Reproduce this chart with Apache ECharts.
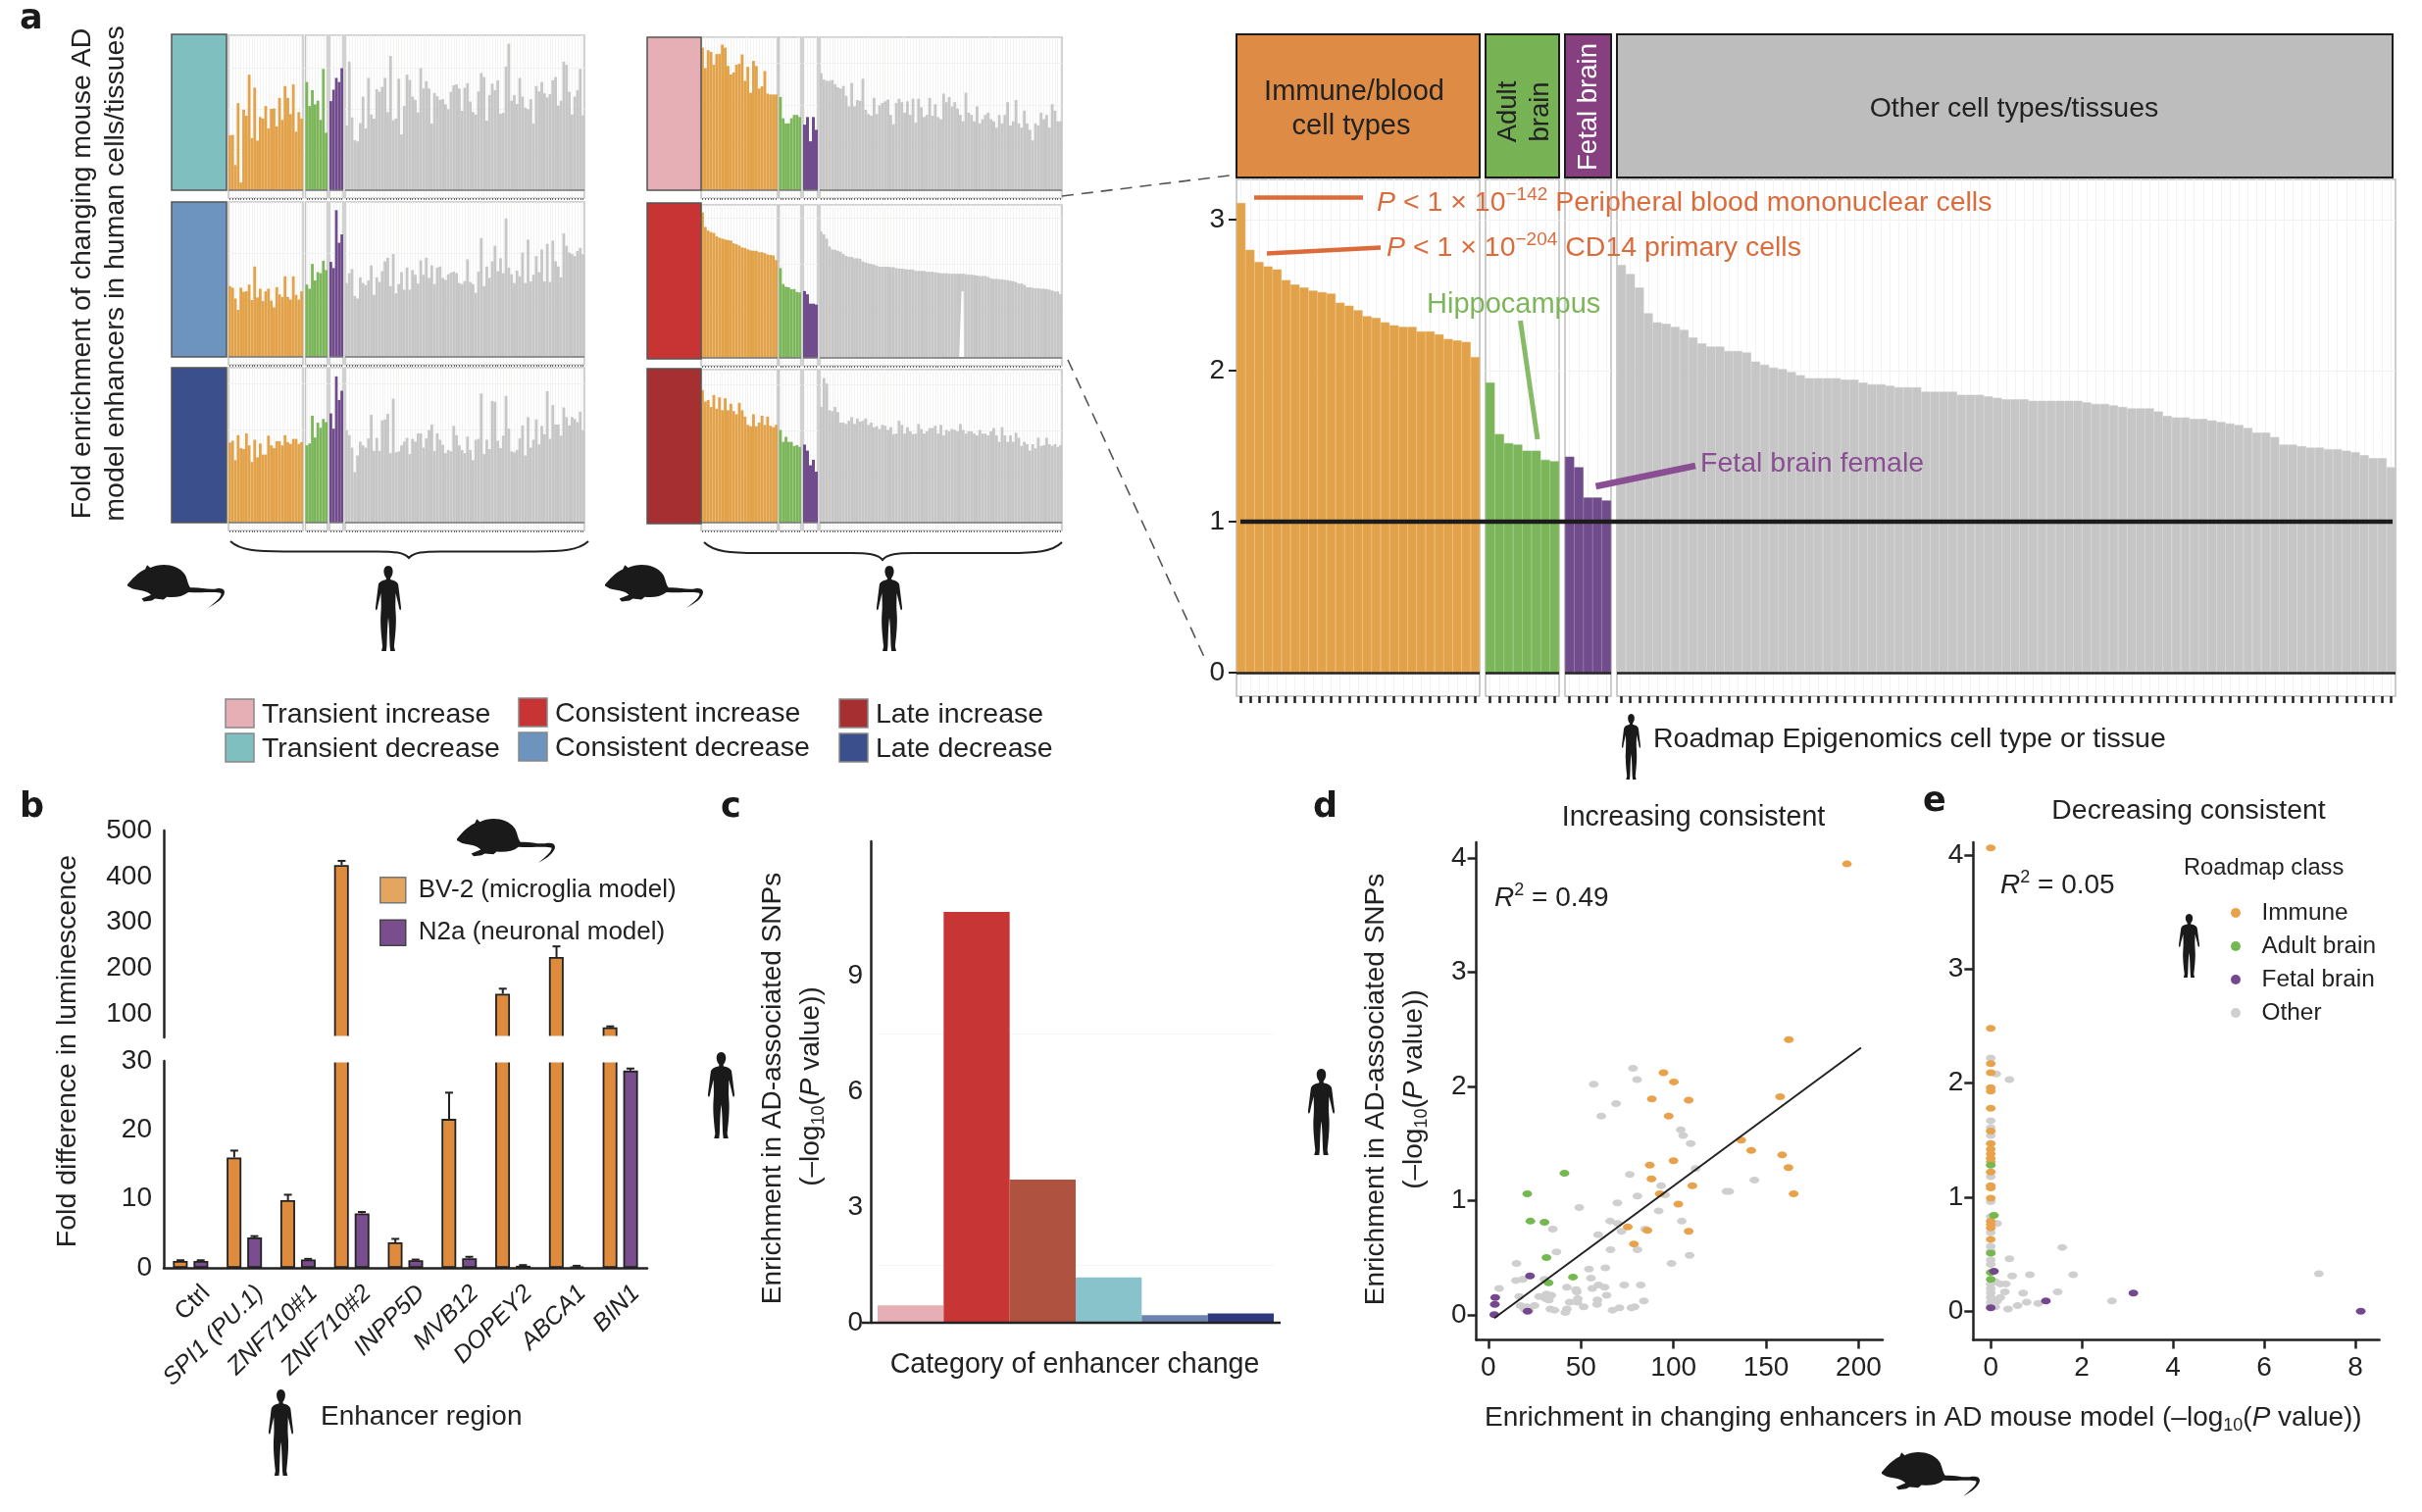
<!DOCTYPE html>
<html><head><meta charset="utf-8">
<style>html,body{margin:0;padding:0;background:#fff}#c{width:2470px;height:1542px}</style>
<script src="https://cdn.jsdelivr.net/npm/echarts@6/dist/echarts.min.js"></script>
</head><body><div id="c"></div>
<script>
// ---------- DATA: panel a, Roadmap classes: Immune(27) Adult(8) Fetal(5) Other(87)
const tdImmune=[1.35,1.36,.62,2.14,.19,1.98,1.83,2.84,1.28,2.52,1.22,1.80,1.76,2.07,1.52,2.0,2.01,1.57,2.27,1.73,2.56,2.27,1.87,2.6,1.44,1.92,1.76];
const tdAdult=[2.66,2.07,2.46,2.11,2.2,1.73,2.98,1.41];
const tdFetal=[2.19,2.47,2.76,2.66,3.0];
const tdOther=[1.59,3.16,1.79,1.23,1.20,1.65,2.30,1.52,2.76,1.86,1.76,2.48,2.42,2.54,2.76,1.92,3.30,1.72,1.76,2.74,1.37,2.07,2.84,2.71,2.30,2.22,1.91,3.00,2.50,2.68,2.50,1.64,2.39,2.31,2.22,2.24,2.11,1.99,2.42,2.58,2.60,2.50,1.95,2.52,2.63,2.18,1.92,1.86,2.43,2.88,2.78,1.71,2.34,2.62,2.46,2.70,1.88,1.90,3.04,3.60,2.20,2.34,2.12,2.76,2.30,2.03,1.99,2.24,1.64,2.56,2.43,2.66,2.38,2.28,2.36,2.70,2.78,2.08,2.20,3.16,3.08,2.42,1.86,2.30,2.46,2.98,1.84];
const cdImmune=[1.37,1.34,1.13,.91,1.34,1.26,1.27,1.40,1.10,1.75,1.15,1.32,1.08,1.27,1.32,1.09,.96,1.35,1.21,1.16,1.56,1.16,1.11,1.56,1.20,1.11,1.27];
const cdAdult=[1.40,1.32,1.80,1.48,1.64,1.62,1.86,1.68];
const cdFetal=[1.84,1.72,2.84,2.21,2.37];
const cdOther=[1.43,1.62,1.70,1.18,1.13,1.54,1.43,1.39,1.48,1.77,1.20,1.54,1.45,1.66,1.85,1.92,1.37,1.99,1.23,1.41,1.64,1.30,1.73,1.30,1.68,1.59,1.42,1.87,1.59,1.92,1.53,1.77,1.41,1.73,1.75,1.53,1.49,1.60,1.63,1.65,1.62,1.43,1.41,1.47,1.89,1.45,1.41,1.24,1.65,2.30,1.37,1.75,1.53,1.85,2.15,1.66,1.91,1.62,2.68,1.73,1.60,1.43,1.67,1.56,2.02,1.43,2.27,1.46,1.59,1.95,1.64,2.08,1.46,2.19,1.45,2.25,1.85,1.75,1.54,2.39,2.15,2.02,1.99,1.95,2.05,2.11,1.99];
const ldImmune=[1.73,1.77,1.35,1.89,1.61,1.59,1.93,1.67,1.31,1.79,1.41,1.71,1.47,1.47,1.88,1.67,1.61,1.76,1.76,1.67,1.89,1.74,1.70,1.81,1.81,1.70,1.74];
const ldAdult=[1.67,1.71,2.31,1.84,2.16,2.05,2.24,2.17];
const ldFetal=[2.36,2.03,3.16,2.65,2.85];
const ldOther=[2.00,1.89,1.62,1.09,1.45,1.75,1.67,1.62,1.82,2.33,1.55,1.83,1.55,2.21,2.23,2.35,1.50,2.68,1.52,1.54,1.67,1.75,1.83,1.48,1.81,1.75,1.93,1.93,1.62,1.82,2.00,2.12,1.55,1.93,1.79,1.68,1.50,1.57,1.54,2.09,1.89,1.67,1.57,1.50,1.86,1.57,1.35,1.79,1.81,2.79,1.48,1.79,1.59,2.63,2.61,1.77,1.61,1.88,2.74,2.03,1.54,1.52,1.57,1.82,2.10,1.45,2.28,1.62,1.79,2.23,1.69,2.09,1.91,2.84,1.81,2.54,2.12,2.12,1.88,2.49,2.28,2.10,2.28,2.24,2.17,2.40,2.00];
const tiImmune=[3.35,2.87,3.29,3.25,2.95,3.20,3.20,3.42,3.35,2.92,2.72,2.77,2.95,2.97,3.19,2.57,2.90,2.29,3.04,2.92,2.39,2.44,2.80,2.27,2.25,2.25,2.25];
const tiAdult=[2.19,1.69,1.57,1.57,1.69,1.77,1.77,1.72];
const tiFetal=[1.54,1.72,1.15,1.72,1.42];
const tiOther=[2.75,2.60,2.57,2.57,2.59,2.49,2.42,2.39,2.45,2.22,1.97,2.52,1.97,2.12,2.10,2.62,1.89,1.79,1.75,2.17,1.79,1.99,2.05,2.09,2.13,1.77,1.55,2.05,2.15,2.07,1.82,2.09,1.77,2.15,1.59,2.15,1.95,1.72,1.77,2.17,1.75,2.02,1.72,1.67,2.27,2.07,2.19,1.97,2.07,1.92,1.77,1.62,2.29,1.82,1.77,1.62,1.97,1.57,1.67,1.77,1.82,1.67,1.62,1.47,1.77,1.57,1.77,2.07,1.52,1.62,2.12,1.57,1.47,1.87,1.57,1.42,1.17,1.57,1.52,1.82,1.67,1.77,1.47,2.02,1.87,1.62,1.62];
const ciImmune=[3.11,2.80,2.72,2.69,2.67,2.60,2.57,2.55,2.53,2.52,2.51,2.45,2.43,2.40,2.36,2.35,2.32,2.30,2.29,2.29,2.26,2.26,2.24,2.21,2.20,2.19,2.09];
const ciAdult=[1.92,1.58,1.52,1.51,1.47,1.47,1.41,1.40];
const ciFetal=[1.43,1.36,1.16,1.16,1.14];
const ciOther=[2.70,2.64,2.55,2.38,2.32,2.31,2.29,2.27,2.22,2.18,2.16,2.16,2.13,2.13,2.12,2.06,2.04,2.02,2.01,1.99,1.97,1.95,1.95,1.95,1.95,1.94,1.94,1.92,1.91,1.91,1.90,1.89,1.89,1.89,1.86,1.86,1.86,1.86,1.84,1.84,1.84,1.83,1.82,1.81,1.81,1.81,1.80,1.80,1.80,1.80,1.80,1.80,1.79,1.78,1.78,1.77,1.76,1.75,1.75,1.75,1.73,1.70,1.69,1.69,1.68,1.68,1.67,1.66,1.65,1.64,1.62,1.59,1.59,1.56,1.51,1.51,1.50,1.49,1.49,1.48,1.48,1.47,1.46,1.44,1.42,1.42,1.36];
const liImmune=[2.89,2.64,2.67,2.52,2.78,2.48,2.73,2.45,2.71,2.45,2.59,2.43,2.36,2.61,2.45,2.31,2.13,2.10,2.36,2.10,2.18,2.33,2.13,2.31,2.11,2.08,2.13];
const liAdult=[2.02,1.76,1.87,1.76,1.76,1.67,1.69,1.65];
const liFetal=[1.70,1.57,1.25,1.37,1.11];
const liOther=[2.52,3.15,3.03,2.45,2.43,2.52,2.41,2.18,2.18,2.15,2.22,2.30,2.15,2.27,2.20,2.22,2.27,2.13,2.18,2.08,2.10,2.04,2.13,2.11,2.02,2.08,1.93,1.94,2.22,2.13,1.94,2.08,1.99,1.93,1.94,2.15,2.04,1.94,1.99,2.06,2.06,2.11,1.94,2.13,1.90,2.02,1.99,2.04,2.02,1.99,2.15,2.02,1.94,1.99,1.99,1.94,1.90,2.02,1.94,1.94,1.90,1.99,2.06,1.90,1.76,2.08,1.90,1.76,1.90,1.76,1.96,1.85,1.67,1.76,1.71,1.57,1.71,1.62,1.85,1.67,1.69,1.85,1.71,1.67,1.71,1.65,1.69];
const baselineValue=[1];
const ticksA=[0,1,2,3];
// panel b
const enhancers=['Ctrl','SPI1 (PU.1)','ZNF710#1','ZNF710#2','INPP5D','MVB12','DOPEY2','ABCA1','BIN1'];
const bv2=[1,16,9.8,425,3.7,21.6,145,225,72];
const bv2Err=[1.1,17,10.6,434,4.2,25.4,156,248,74];
const n2a=[1,4.4,1.2,7.9,1.1,1.4,.3,.2,28.6];
const n2aErr=[1.1,4.6,1.3,8.1,1.2,1.6,.4,.3,28.9];
const ticksBUpper=[100,200,300,400,500];
const ticksBLower=[0,10,20,30];
// panel c
const changeCategories=['Transient increase','Consistent increase','Late increase','Transient decrease','Consistent decrease','Late decrease'];
const changeValues=[.45,10.67,3.72,1.18,.2,.24];
const changeColors=['#E6AEB5','#C73534','#AF5240','#88C3CC','#6B83AE','#2F3A7E'];
const ticksC=[0,3,6,9];
// panel d [x,y]
const dImmune=[[193.7,3.95],[162.3,2.41],[94.6,2.12],[100.2,2.04],[88.3,1.89],[108.2,1.88],[157.6,1.91],[97.4,1.74],[136.6,1.53],[142,1.44],[100,1.35],[87.2,1.31],[158.7,1.40],[162.1,1.29],[88.1,1.19],[110.2,1.13],[92.6,1.06],[164.9,1.06],[102.6,.97],[75.3,.77],[85.9,.74],[108.2,.73],[78.6,.62]];
const dAdult=[[41.1,1.24],[21,1.06],[22.7,.82],[30.3,.81],[31.4,.50],[45.7,.33],[32.5,.28]];
const dFetal=[[22.5,.34],[3.7,.15],[3.5,.09],[3.2,0],[21.2,.03]];
const dOther=[[78.1,2.16],[80.3,2.06],[56.9,2.02],[69,1.85],[61,1.74],[103.9,1.62],[105.2,1.57],[109.3,1.50],[111.9,1.28],[76.4,1.23],[93.3,1.13],[143.7,1.18],[128.6,1.08],[130.1,1.08],[80.5,1.04],[95.5,1.05],[69.7,.98],[49.1,.94],[92,.91],[104.5,.82],[65.8,.82],[69.9,.80],[34.8,.75],[71.9,.73],[84.6,.75],[59.3,.70],[66,.57],[36.8,.55],[80.5,.57],[108.7,.52],[15.2,.45],[98.9,.45],[54.3,.40],[63.2,.41],[55.4,.32],[14.9,.30],[18.6,.31],[30.3,.31],[5.8,.23],[42.4,.24],[47.4,.22],[56.1,.23],[59.5,.26],[62.8,.24],[73.4,.26],[82.3,.26],[47.8,.20],[63.9,.17],[16.7,.16],[27.5,.16],[31.4,.18],[34,.17],[31,.14],[32.7,.13],[48.3,.14],[43.9,.11],[58.9,.13],[84,.12],[17.3,.08],[20.6,.07],[24.9,.08],[19.5,.05],[48.1,.11],[51.5,.07],[58.7,.09],[33.5,.05],[35.7,.04],[42.4,.05],[41.6,.02],[67.1,.04],[70.8,.06],[77.3,.06],[79,.07],[21.9,.04]];
const dFit=[[3.2,-.03],[201.3,2.34]];
// panel e [x,y]
const eImmune=[[0,4.06],[0,2.48],[0,2.17],[0,2.09],[0,1.96],[0,1.93],[0,1.78],[0,1.58],[0,1.47],[0,1.42],[0,1.38],[0,1.34],[0,1.31],[0,1.22],[0,1.10],[0,1.08],[0,.99],[0,.79],[0,.76],[0,.73],[0,.63]];
const eAdult=[[.07,.84],[0,1.28],[0,.51],[0,.34],[0,.28]];
const eFetal=[[1.21,.09],[3.13,.16],[8.12,0],[.07,.35],[0,.03]];
const eOther=[[0,2.22],[0,1.67],[0,1.61],[0,1.54],[0,1.18],[0,.96],[0,.83],[0,.69],[0,.57],[0,.53],[0,.45],[0,.41],[0,.24],[0,.20],[0,.16],[0,.12],[0,.08],[0,.05],[.12,2.08],[.41,2.03],[.14,.77],[1.57,.56],[.41,.46],[.47,.31],[.86,.32],[1.81,.32],[7.2,.33],[1.47,.17],[2.66,.09],[.71,.16],[.79,.08],[1.04,.07],[.59,.05],[.38,.02],[.33,.24],[.21,.24],[.10,.26],[.31,.17],[.21,.12],[.14,.09],[.1,.04]];

// ---------- STYLE / LAYOUT
const FF='"Liberation Sans",Arial,sans-serif', INK='#222';
const C={immune:'#E2A24A',adult:'#7CB65A',fetal:'#704C8C',other:'#C6C6C6',pImmune:'#E9A24C',pAdult:'#74B84F',pFetal:'#74478E',pOther:'#CFCFCF'};
const grids=[],xAxes=[],yAxes=[],series=[],G=[];

function addFacet(o){
  const i=grids.length, unit=o.unit, h=o.zero+o.below-o.top;
  grids.push({show:true,left:o.left,top:o.top,width:o.right-o.left,height:h,backgroundColor:'#fff',borderColor:o.border||'#c4c4c4',borderWidth:o.bw||1.5});
  xAxes.push({gridIndex:i,type:'category',data:o.values.map((v,k)=>k),axisLine:{show:false,onZero:false},
    axisTick:{show:true,alignWithLabel:true,interval:0,length:o.tick,lineStyle:{color:o.tickColor,width:o.tickW}},
    axisLabel:{show:false},splitLine:{show:true,interval:0,alignWithLabel:true,lineStyle:{color:'#f3f3f1',width:1}}});
  yAxes.push({gridIndex:i,type:'value',min:-o.below/unit,max:(o.zero-o.top)/unit,axisLine:{show:false},
    axisTick:{show:!!o.labels,customValues:ticksA,length:8,lineStyle:{color:INK,width:2}},
    axisLabel:{show:!!o.labels,customValues:ticksA,color:INK,fontSize:28,fontFamily:FF,margin:12},
    splitLine:{show:true,lineStyle:{color:'#f0f0ee',width:1}}});
  series.push({type:'bar',xAxisIndex:i,yAxisIndex:i,data:o.values,barWidth:'100%',silent:true,
    itemStyle:{color:o.color,borderColor:o.seam||o.color,borderWidth:o.seam?0.6:0},z:3,
    markLine:{silent:true,symbol:'none',animation:false,label:{show:false},data:[{yAxis:0}],lineStyle:{color:o.zeroColor,width:o.zeroW,type:'solid'},z:6}});
}
const leftCols=[[233,309],[311.5,334],[336,350],[352,596]], rightCols=[[715,793],[794.5,817],[819,834],[836,1083]];
const colors=[C.immune,C.adult,C.fetal,C.other];
const smallRows=[
 {cols:leftCols, top:36, zero:194,unit:41.5,sets:[tdImmune,tdAdult,tdFetal,tdOther]},
 {cols:leftCols, top:206,zero:364,unit:52.7,sets:[cdImmune,cdAdult,cdFetal,cdOther]},
 {cols:leftCols, top:375,zero:533,unit:47.2,sets:[ldImmune,ldAdult,ldFetal,ldOther]},
 {cols:rightCols,top:38, zero:194,unit:43.4,sets:[tiImmune,tiAdult,tiFetal,tiOther]},
 {cols:rightCols,top:209,zero:365,unit:47.7,sets:[ciImmune,ciAdult,ciFetal,ciOther]},
 {cols:rightCols,top:377,zero:533,unit:46.8,sets:[liImmune,liAdult,liFetal,liOther]}
];
smallRows.forEach(r=>r.sets.forEach((vals,k)=>addFacet({left:r.cols[k][0],right:r.cols[k][1],top:r.top,zero:r.zero,unit:r.unit,below:8,values:vals,color:colors[k],tick:2,tickColor:'#666',tickW:1,zeroColor:'#777',zeroW:1.5})));
// big panel
const bigCols=[[1261,1509],[1515,1590],[1596,1643],[1649,2443]];
const bigSeams=['#E6A959','#83BB63','#785490','#CACACA'];
[ciImmune,ciAdult,ciFetal,ciOther].forEach((vals,k)=>addFacet({left:bigCols[k][0],right:bigCols[k][1],top:183,zero:686,unit:154,below:24,values:vals,color:colors[k],seam:bigSeams[k],tick:7,tickColor:INK,tickW:2.5,zeroColor:'#222',zeroW:2.5,labels:k===0,border:'#bdbdbd'}));
// y = 1 reference line across the big panel
{const i=grids.length;
 grids.push({left:1265,width:1175,top:183,height:527});
 xAxes.push({gridIndex:i,type:'value',min:0,max:1,show:false});
 yAxes.push({gridIndex:i,type:'value',min:-24/154,max:503/154,show:false});
 series.push({type:'line',xAxisIndex:i,yAxisIndex:i,silent:true,showSymbol:false,data:[[0,baselineValue[0]],[1,baselineValue[0]]],lineStyle:{color:'#1c1c1c',width:4.5},z:8});
}
// panel b
const axisB={axisLine:{show:true,onZero:false,lineStyle:{color:INK,width:2.5}},splitLine:{show:false}};
const gU=grids.length;
grids.push({left:167,width:493,top:847,height:211});
xAxes.push({gridIndex:gU,type:'category',data:enhancers,axisLine:{show:false},axisTick:{show:false},axisLabel:{show:false}});
yAxes.push({gridIndex:gU,type:'value',min:50,max:500,...axisB,axisTick:{customValues:[50,...ticksBUpper],length:8,lineStyle:{color:INK,width:2.5}},axisLabel:{customValues:ticksBUpper,color:INK,fontSize:28,fontFamily:FF,margin:12}});
const gL=grids.length;
grids.push({left:167,width:493,top:1082,height:211});
xAxes.push({gridIndex:gL,type:'category',data:enhancers,...axisB,axisTick:{alignWithLabel:true,length:8,lineStyle:{color:INK,width:2.5}},
  axisLabel:{interval:0,rotate:45,color:INK,fontSize:25,fontStyle:'italic',fontFamily:FF,margin:6,verticalAlign:'top',padding:[10,0,0,0],
    formatter:v=>v==='Ctrl'?'{n|Ctrl}':v,rich:{n:{fontStyle:'normal',fontSize:25,fontFamily:FF,color:INK}}}});
yAxes.push({gridIndex:gL,type:'value',min:0,max:30,interval:10,...axisB,axisTick:{length:8,lineStyle:{color:INK,width:2.5}},axisLabel:{color:INK,fontSize:28,fontFamily:FF,margin:12}});
const barStyle=c=>({color:c,borderColor:'#222',borderWidth:1.8});
const errSeries=(vals,errs,off,g,keep)=>({type:'custom',xAxisIndex:g,yAxisIndex:g,silent:true,z:4,clip:false,
  data:vals.map((v,k)=>[k,v,errs[k]]).filter(keep),
  renderItem(p,api){const a=api.coord([api.value(0),api.value(1)]),b=api.coord([api.value(0),api.value(2)]),x=a[0]+off,ls={stroke:'#222',lineWidth:2};
    return {type:'group',children:[{type:'line',shape:{x1:x,y1:a[1],x2:x,y2:b[1]},style:ls},{type:'line',shape:{x1:x-4,y1:b[1],x2:x+4,y2:b[1]},style:ls}]};}});
[gU,gL].forEach(g=>{
  series.push({type:'bar',name:'BV-2 (microglia model)',xAxisIndex:g,yAxisIndex:g,data:bv2,barWidth:15,barGap:'40%',itemStyle:barStyle('#DF8B3E'),z:3});
  series.push({type:'bar',name:'N2a (neuronal model)',xAxisIndex:g,yAxisIndex:g,data:n2a,barWidth:15,barGap:'40%',itemStyle:barStyle('#7A4E8E'),z:3});
});
series.push(errSeries(bv2,bv2Err,-10.3,gU,d=>d[1]>=50),errSeries(bv2,bv2Err,-10.3,gL,d=>d[2]<=30),errSeries(n2a,n2aErr,10.3,gL,d=>d[2]<=30));
// panel c
{const i=grids.length;
 grids.push({left:895,width:404,top:858,height:491});
 xAxes.push({gridIndex:i,type:'category',data:changeCategories,axisLine:{show:false},axisTick:{show:false},axisLabel:{show:false}});
 yAxes.push({gridIndex:i,type:'value',min:0,max:12.5,offset:7,axisLine:{show:true,lineStyle:{color:INK,width:2.5}},axisTick:{customValues:ticksC,length:9,lineStyle:{color:INK,width:2.5}},axisLabel:{customValues:ticksC,color:INK,fontSize:28,fontFamily:FF,margin:8},splitLine:{show:false}});
 series.push({type:'bar',xAxisIndex:i,yAxisIndex:i,barWidth:'100%',silent:true,data:changeValues.map((v,k)=>({value:v,itemStyle:{color:changeColors[k]}})),z:3,
   markLine:{silent:true,symbol:'none',animation:false,label:{show:false},data:[{yAxis:1.5},{yAxis:7.5}],lineStyle:{color:'#f5f5f5',width:1,type:'solid'},z:1}});
}
// scatter panels
function addScatter(o){
  const i=grids.length;
  grids.push({left:o.left,width:o.right-o.left,top:859,height:507.4});
  const ax=(tv,m)=>({axisLine:{show:true,onZero:false,lineStyle:{color:INK,width:2.5}},axisTick:{customValues:tv,length:9,lineStyle:{color:INK,width:2.5}},axisLabel:{customValues:tv,color:INK,fontSize:28,fontFamily:FF,margin:m},splitLine:{show:false}});
  xAxes.push({gridIndex:i,type:'value',min:o.xmin,max:o.xmax,...ax(o.xt,15)});
  yAxes.push({gridIndex:i,type:'value',min:o.ymin,max:o.ymax,...ax(o.yt,10)});
  [['Other',o.sets[3],C.pOther],['Immune',o.sets[0],C.pImmune],['Adult brain',o.sets[1],C.pAdult],['Fetal brain',o.sets[2],C.pFetal]].forEach(([n,d,c])=>
    series.push({type:'scatter',name:n,xAxisIndex:i,yAxisIndex:i,data:d,symbol:'circle',symbolSize:[10,7],silent:true,itemStyle:{color:c,opacity:1},z:4}));
  return i;
}
const gD=addScatter({left:1505.6,right:1920,xmin:-6.5,xmax:213,ymin:-.22,ymax:4.14,xt:[0,50,100,150,200],yt:[0,1,2,3,4],sets:[dImmune,dAdult,dFetal,dOther]});
series.push({type:'line',xAxisIndex:gD,yAxisIndex:gD,data:dFit,showSymbol:false,silent:true,lineStyle:{color:'#222',width:2},z:5});
addScatter({left:2012.3,right:2426.6,xmin:-.385,xmax:8.53,ymin:-.25,ymax:4.11,xt:[0,2,4,6,8],yt:[0,1,2,3,4],sets:[eImmune,eAdult,eFetal,eOther]});

// ---------- GRAPHIC: text, swatches, silhouettes
const richFor=(s,col)=>({i:{fontSize:s,fontFamily:FF,fontStyle:'italic',fill:col},
  u:{fontSize:Math.round(s*.66),fontFamily:FF,fill:col,verticalAlign:'top',lineHeight:s+6},
  d:{fontSize:Math.round(s*.66),fontFamily:FF,fill:col,verticalAlign:'bottom',lineHeight:s+6},
  n:{fontSize:s,fontFamily:FF,fill:col,lineHeight:s+6}});
function T(x,y,text,o={}){const s=o.size||28.4,col=o.color||INK;
  G.push({type:'text',x,y:o.rot?y:y+2,rotation:o.rot||0,z:60,silent:true,style:{text,fontSize:s,fontFamily:o.family||FF,fontWeight:o.weight||'normal',fill:col,align:o.align||'left',verticalAlign:o.va||'middle',rich:o.rich?richFor(s,col):undefined}});}
function R(x,y,w,h,fill,stroke,lw){G.push({type:'rect',z:40,silent:true,shape:{x,y,width:w,height:h},style:{fill,stroke,lineWidth:lw||1.5}});}
function L(x1,y1,x2,y2,col,w,dash){G.push({type:'line',z:55,silent:true,shape:{x1,y1,x2,y2},style:{stroke:col,lineWidth:w,lineDash:dash||null}});}
// silhouettes and braces are drawn by one overlay custom series (page coordinates)
const HUMAN='M50 0C62 0 68 10 67 22C66 32 62 38 58 42L58 48C72 52 84 54 88 66C92 90 94 115 98 140C100 152 96 158 92 150C88 130 82 110 78 95C78 120 76 140 78 160C82 200 76 245 72 280L76 296L58 296L56 280C54 240 54 210 50 180C46 210 46 240 44 280L42 296L24 296L28 280C24 245 18 200 22 160C24 140 22 120 22 95C18 110 12 130 8 150C4 158 0 152 2 140C6 115 8 90 12 66C16 54 28 52 42 48L42 42C38 38 34 32 33 22C32 10 38 0 50 0Z';
const MOUSE='M0 45C10 35 25 20 45 12L50 3L58 9C85 -2 125 0 145 22C152 30 153 45 160 52C185 50 205 58 228 54C245 52 250 60 245 68C238 80 222 88 205 96C225 82 240 72 238 64C225 60 190 64 155 62C140 72 120 74 100 72L92 78L70 76L62 80L42 82L36 76L60 68C50 58 30 58 12 54L0 48Z';
const BRACE='M0 0C10 10 27 11 55 11L150 11C167 11 177 12 182 18C187 12 197 11 214 11L310 11C338 11 355 10 365 0';
const decor=[];
[[383,577,26,87],[894,577,26,87],[274,1417,25,88],[722,1073,27,88],[1334,1090,27,88],[2222,932,21,65],[1654,728,19,67]].forEach(a=>decor.push({p:HUMAN,r:a,s:{fill:'#1a1a1a'}}));
[[130,576,99,44],[617,576,100,44],[466,835,100,45],[1919,1481,100,45]].forEach(a=>decor.push({p:MOUSE,r:a,s:{fill:'#1a1a1a'}}));
[[235,552,365,17],[718,553,365,18]].forEach(a=>decor.push({p:BRACE,r:a,s:{fill:null,stroke:'#222',lineWidth:2}}));
series.push({type:'custom',coordinateSystem:'none',silent:true,z:20,data:decor.map((d,k)=>k),
  renderItem(p){const d=decor[p.dataIndex];return {type:'path',shape:{pathData:d.p,layout:'cover',x:d.r[0],y:d.r[1],width:d.r[2],height:d.r[3]},style:d.s};}});
// panel letters
[['a',20,35],['b',20,839],['c',735,839],['d',1339,839],['e',1961,833]].forEach(([t,x,y])=>T(x,y,t,{size:35,weight:'bold',family:'"DejaVu Sans",sans-serif',va:'bottom',color:'#1a1a1a'}));
// panel a swatches
[[175,35,56,159,'#7FBFC0'],[175,206,56,158,'#6D94BF'],[175,375,56,158,'#3A4F8B'],[660,38,55,156,'#E6AEB5'],[660,207,55,159,'#C73433'],[660,376,55,158,'#A52F31']].forEach(a=>R(a[0],a[1],a[2],a[3],a[4],'#555',1.5));
T(84.5,279,'Fold enrichment of changing mouse AD',{rot:Math.PI/2,align:'center',size:28.5});
T(118,279,'model enhancers in human cells/tissues',{rot:Math.PI/2,align:'center',size:28.5});
// zoom dashed lines
L(1083,200,1262,178,'#555',1.6,[12,8]);
L(1089,367,1228,670,'#555',1.6,[12,8]);
// big panel strips
[[1261,248,'#DE8C45'],[1515,75,'#77B255'],[1596,47,'#86407F'],[1649,791,'#BDBDBD']].forEach(a=>R(a[0],35,a[1],146,a[2],'#1c1c1c',2));
T(1381,92,'Immune/blood',{align:'center',size:29});
T(1378,127,'cell types',{align:'center',size:29});
T(1538,114,'Adult',{rot:Math.PI/2,align:'center',size:27.5});
T(1571,114,'brain',{rot:Math.PI/2,align:'center',size:27.5});
T(1620,109,'Fetal brain',{rot:Math.PI/2,align:'center',size:27.5,color:'#fff'});
T(2054,109,'Other cell types/tissues',{align:'center',size:28.5});
// annotations
const OR='#DC6B3C';
L(1279,201.5,1390,201.5,OR,4.5);
T(1404,205,'{i|P}{n| < 1 × 10}{u|−142}{n| Peripheral blood mononuclear cells}',{size:28.5,color:OR,rich:1});
L(1292,258.5,1408,252.5,OR,4.5);
T(1414,251,'{i|P}{n| < 1 × 10}{u|−204}{n| CD14 primary cells}',{size:28.5,color:OR,rich:1});
T(1455,309,'Hippocampus',{size:29,color:'#7CB65A'});
L(1550.5,327,1568,448,'#86BC68',5);
T(1734,471,'Fetal brain female',{size:28.5,color:'#8A4E93'});
L(1627.5,496,1729,475,'#8A4E93',6.5);
T(1686,752,'Roadmap Epigenomics cell type or tissue',{size:28.5});
G.push({type:'polygon',z:50,silent:true,shape:{points:[[980.6,297],[982.6,297],[983,364],[978.2,364]]},style:{fill:'#fff'}});
// legend a
[[230,713,'#E6AEB5','Transient increase'],[230,748,'#7FBFC0','Transient decrease'],[529,712,'#C73433','Consistent increase'],[529,747,'#6D94BF','Consistent decrease'],[856,713,'#A52F31','Late increase'],[856,748,'#3A4F8B','Late decrease']].forEach(a=>{R(a[0],a[1],29,29,a[2],'#888',1.5);T(a[0]+37,a[1]+14,a[3],{size:28.5});});
// panel b text + break mask
G.push({type:'rect',z:30,silent:true,shape:{x:170,y:1056.5,width:492,height:27},style:{fill:'#fff'}});
T(69,1072,'Fold difference in luminescence',{rot:Math.PI/2,align:'center',size:28.5});
T(327,1443,'Enhancer region',{size:28});
// panel c text
L(879,1349,1306,1349,INK,2.5);
T(788.5,1110,'Enrichment in AD-associated SNPs',{rot:Math.PI/2,align:'center',size:28});
T(827,1108,'{n|(–log}{d|10}{n|(}{i|P}{n| value))}',{rot:Math.PI/2,align:'center',size:28,rich:1});
T(1096,1390,'Category of enhancer change',{align:'center',size:28.6});
// panels d, e text
T(1727,832,'Increasing consistent',{align:'center',size:28.6});
T(1524,914,'{i|R}{u|2}{n| = 0.49}',{size:28,rich:1});
T(1403.5,1111,'Enrichment in AD-associated SNPs',{rot:Math.PI/2,align:'center',size:28});
T(1442,1111,'{n|(–log}{d|10}{n|(}{i|P}{n| value))}',{rot:Math.PI/2,align:'center',size:28,rich:1});
T(1514,1444,'{n|Enrichment in changing enhancers in AD mouse model (–log}{d|10}{n|(}{i|P}{n| value))}',{size:28,rich:1});
T(2232,825,'Decreasing consistent',{align:'center',size:28.4});
T(2040,901,'{i|R}{u|2}{n| = 0.05}',{size:28,rich:1});
T(2227,883,'Roadmap class',{size:23.7});

const chart=echarts.init(document.getElementById('c'),null,{renderer:'canvas',width:2470,height:1542});
chart.setOption({animation:false,backgroundColor:'#fff',grid:grids,xAxis:xAxes,yAxis:yAxes,series,
 legend:[
  {left:382,top:889,orient:'vertical',itemWidth:26,itemHeight:26,itemGap:16,icon:'rect',selectedMode:false,
   textStyle:{color:INK,fontSize:26,fontFamily:FF,padding:[0,0,0,8]},
   data:[{name:'BV-2 (microglia model)',itemStyle:{color:'#E4A65F',borderColor:'#777',borderWidth:1.5}},{name:'N2a (neuronal model)',itemStyle:{color:'#7A4E8E',borderColor:'#444',borderWidth:1.5}}]},
  {left:2270,top:914,orient:'vertical',itemWidth:43,itemHeight:10,itemGap:10,icon:'circle',selectedMode:false,
   textStyle:{color:INK,fontSize:24.4,fontFamily:FF},
   data:['Immune','Adult brain','Fetal brain','Other']}
 ],
 graphic:{elements:G}});
</script></body></html>
